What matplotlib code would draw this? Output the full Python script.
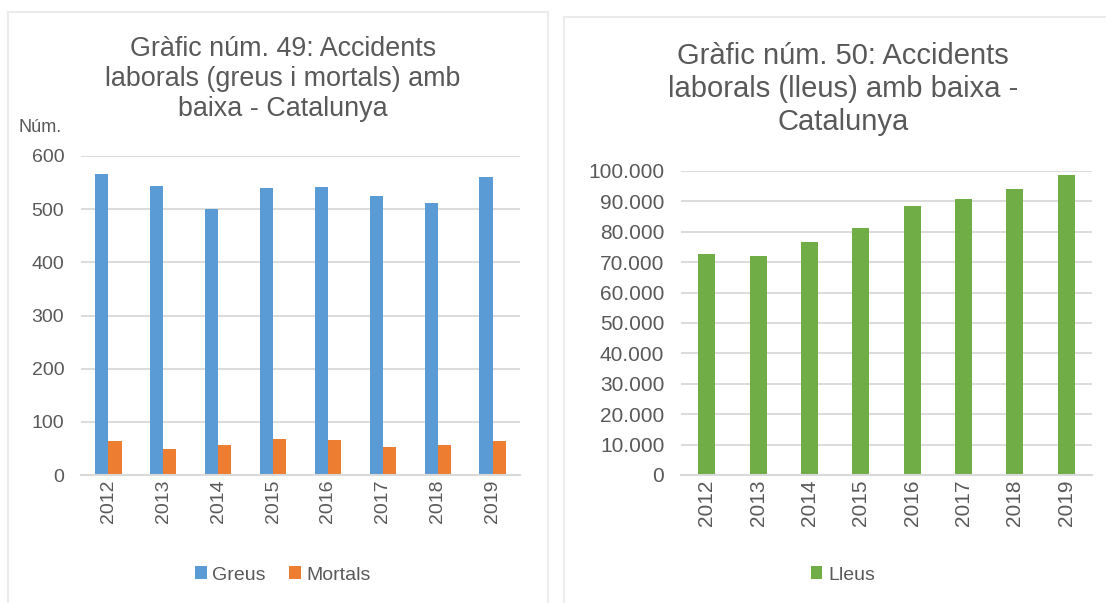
import numpy as np
import matplotlib
matplotlib.use("Agg")
import matplotlib.pyplot as plt
from matplotlib.patches import Rectangle
from matplotlib.ticker import FuncFormatter

plt.rcParams['font.family'] = ['Liberation Sans', 'DejaVu Sans']

years = ['2012', '2013', '2014', '2015', '2016', '2017', '2018', '2019']
greus = [567, 543, 500, 539, 541, 525, 512, 561]
mortals = [64, 48, 56, 68, 66, 53, 56, 64]
lleus = [72800, 72150, 76750, 81250, 88400, 90800, 94200, 98800]

BLUE = '#5B9BD5'
ORANGE = '#ED7D31'
GREEN = '#70AD47'
TXT = '#595959'
GRID = '#D9D9D9'

W, H = 1106, 603
fig = plt.figure(figsize=(W / 100, H / 100), dpi=100)


def px_axes(x0, y0, x1, y1):
    # pixel box (top-left origin) -> figure axes
    return fig.add_axes([x0 / W, 1 - y1 / H, (x1 - x0) / W, (y1 - y0) / H])


def style(ax, ymax, step, fs):
    ax.set_ylim(0, ymax)
    ax.set_xlim(-0.5, len(years) - 0.5)
    ax.set_yticks(np.arange(0, ymax + 1, step))
    ax.yaxis.grid(True, color=GRID, lw=1.3)
    ax.set_axisbelow(True)
    for s in ['top', 'right', 'left']:
        ax.spines[s].set_visible(False)
    ax.spines['bottom'].set_color(GRID)
    ax.spines['bottom'].set_linewidth(1.5)
    ax.tick_params(length=0, colors=TXT, labelsize=fs)
    ax.tick_params(axis='y', pad=12)
    ax.set_xticks(range(len(years)))
    ax.set_xticklabels(years, rotation=90)


# panel frames (open at the bottom)
fig.patches.append(Rectangle((8 / W, -0.05), 540 / W, 1.05 - 12 / H, transform=fig.transFigure,
                             fill=False, ec='#EBEBEB', lw=1.5))
fig.patches.append(Rectangle((564 / W, -0.05), 560 / W, 1.05 - 17 / H, transform=fig.transFigure,
                             fill=False, ec='#EBEBEB', lw=1.5))

# left: greus i mortals
x = np.arange(len(years))
ax1 = px_axes(81, 156, 520, 475)
ax1.bar(x - 0.12, greus, 0.24, color=BLUE, label='Greus')
ax1.bar(x + 0.12, mortals, 0.24, color=ORANGE, label='Mortals')
style(ax1, 600, 100, 14)
fig.text(283 / W, 1 - 79 / H,
         'Gràfic núm. 49: Accidents\nlaborals (greus i mortals) amb\nbaixa - Catalunya',
         ha='center', va='center', fontsize=19.4, color=TXT, linespacing=1.22)
fig.text(18 / W, 1 - 127 / H, 'Núm.', fontsize=13, color=TXT, va='center')
fig.legend(handles=ax1.get_legend_handles_labels()[0], loc='center',
           bbox_to_anchor=(283 / W, 1 - 575 / H), ncol=2, frameon=False,
           fontsize=14, labelcolor=TXT, handlelength=0.6, handleheight=0.6,
           handletextpad=0.3, columnspacing=1.2)

# right: lleus
ax2 = px_axes(681, 171, 1092, 475)
ax2.bar(x, lleus, 0.33, color=GREEN, label='Lleus')
style(ax2, 100000, 10000, 15)
ax2.yaxis.set_major_formatter(FuncFormatter(lambda v, p: f'{int(v):,}'.replace(',', '.')))
fig.text(843 / W, 1 - 89 / H,
         'Gràfic núm. 50: Accidents\nlaborals (lleus) amb baixa -\nCatalunya',
         ha='center', va='center', fontsize=21, color=TXT, linespacing=1.25)
fig.legend(handles=ax2.get_legend_handles_labels()[0], loc='center',
           bbox_to_anchor=(843 / W, 1 - 575 / H), frameon=False,
           fontsize=14, labelcolor=TXT, handlelength=0.6, handleheight=0.6,
           handletextpad=0.3)

fig.savefig('out.png', dpi=100, facecolor='white')
